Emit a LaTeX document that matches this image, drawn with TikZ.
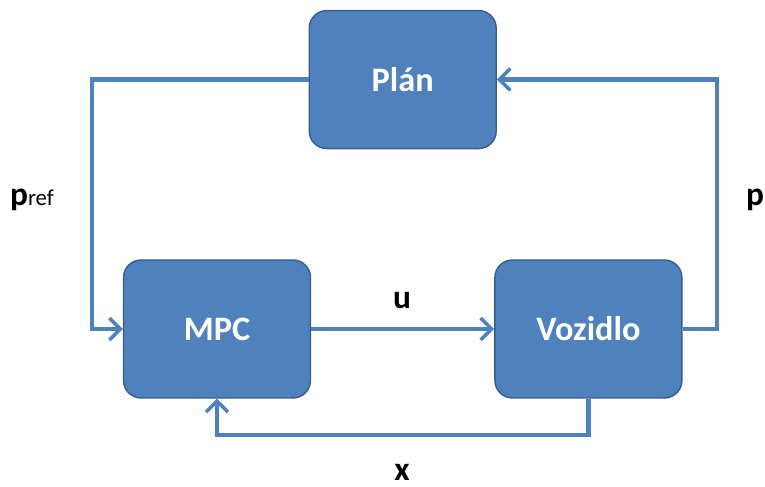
\documentclass[tikz,border=0pt]{standalone}
\usepackage{fontspec}
\setmainfont{Carlito}
\usetikzlibrary{arrows.meta,positioning,calc}
\definecolor{boxblue}{HTML}{4F81BD}
\definecolor{boxedge}{HTML}{385D8A}

\begin{document}
\begin{tikzpicture}[
  node distance=22mm and 36.6mm,
  block/.style={rectangle, rounded corners=10pt, draw=boxedge,
                fill=boxblue, line width=0.8pt,
                minimum width=37.4mm, minimum height=27.6mm,
                align=center, text=white,
                font=\fontsize{19.5}{22}\selectfont\bfseries},
  sig/.style={font=\fontsize{19}{22}\selectfont\bfseries, text=black,
              inner sep=1pt},
  arrow/.style={-{Straight Barb[length=2.2mm, width=4.4mm, line width=2pt]},
                line width=2.4pt, boxblue}
]
\useasboundingbox (-4.34,-3.16) rectangle (10.96,6.58);

\node[block] (mpc) {MPC};
\node[block, right=of mpc] (voz) {Vozidlo};
\node[block, above=of $(mpc.north)!0.5!(voz.north)$] (plan) {Plán};

\draw[arrow] (mpc) -- (voz);
\draw[arrow] (plan.west) -| ([xshift=-6.2mm]mpc.west) -- (mpc.west);
\draw[arrow] (voz.east) -- ++(0.68,0) |- (plan.east);
\draw[arrow] (voz.south) -- ++(0,-0.72) -| (mpc.south);

% signal labels
\node[sig] (lu) at (3.7,0.56) {u};
\node[sig] (lx) at (3.7,-2.86) {x};
\node[sig] (lp) at (10.76,2.58) {p};
\node[sig] (lpref) at (-3.7,2.58) {p{\fontsize{13}{15}\selectfont\mdseries ref}};
\end{tikzpicture}
\end{document}
